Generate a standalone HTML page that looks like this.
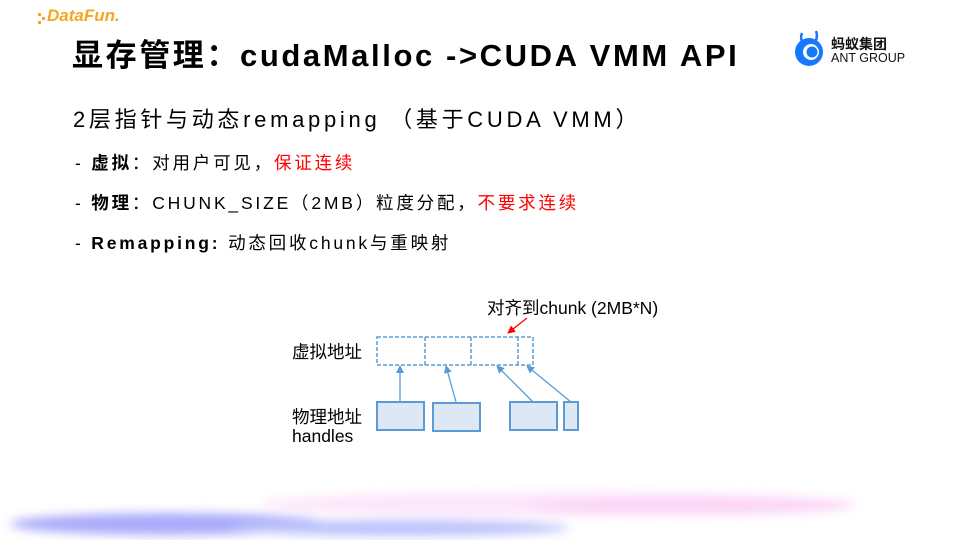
<!DOCTYPE html>
<html><head><meta charset="utf-8"><style>
body{margin:0;width:960px;height:540px;background:#fff;position:relative;overflow:hidden;font-family:"Liberation Sans","Noto Sans CJK SC",sans-serif;color:#000}
.a{position:absolute;white-space:nowrap}
.t{left:72px;top:30px;font-size:31px;font-weight:bold;letter-spacing:2.6px}
.s{left:73px;top:102px;font-size:22px;letter-spacing:3.7px}
.b{left:75px;font-size:17.5px;letter-spacing:2.8px}
.r{color:#ff0000}
</style></head><body>
<svg class="a" style="left:0;top:0" width="960" height="540">
<defs><filter id="f" x="-20%" y="-200%" width="140%" height="500%"><feGaussianBlur stdDeviation="5"/></filter>
<marker id="ab" markerWidth="8" markerHeight="8" refX="7" refY="4" orient="auto" markerUnits="userSpaceOnUse"><path d="M0,0 L8,4 L0,8z" fill="#5b9bd5"/></marker>
<marker id="ar" markerWidth="8" markerHeight="8" refX="7" refY="4" orient="auto" markerUnits="userSpaceOnUse"><path d="M0,0 L8,4 L0,8z" fill="#ff0000"/></marker></defs>
<g filter="url(#f)">
<ellipse cx="560" cy="504" rx="300" ry="12" fill="#fde6fb"/>
<ellipse cx="690" cy="506" rx="160" ry="9" fill="#fbd6f8"/>
<ellipse cx="170" cy="524" rx="160" ry="11" fill="#aaaafb"/>
<ellipse cx="400" cy="528" rx="170" ry="8" fill="#bcc2fb"/>
</g>
<g fill="none" stroke="#5b9bd5" stroke-width="1.5">
<rect x="377" y="337" width="156" height="28" stroke-dasharray="4,2"/>
<line x1="425" y1="337" x2="425" y2="365" stroke-dasharray="4,2"/>
<line x1="471" y1="337" x2="471" y2="365" stroke-dasharray="4,2"/>
<line x1="518" y1="337" x2="518" y2="365" stroke-dasharray="4,2"/>
</g>
<g fill="#dde8f4" stroke="#5b9bd5" stroke-width="2">
<rect x="377" y="402" width="47" height="28"/><rect x="433" y="403" width="47" height="28"/>
<rect x="510" y="402" width="47" height="28"/><rect x="564" y="402" width="14" height="28"/>
</g>
<g stroke="#5b9bd5" stroke-width="1.3" marker-end="url(#ab)">
<line x1="400" y1="402" x2="400" y2="366"/><line x1="456" y1="402" x2="446" y2="366"/>
<line x1="533" y1="402" x2="497" y2="366"/><line x1="571" y1="402" x2="527" y2="366"/>
</g>
<line x1="527" y1="318" x2="508" y2="333" stroke="#ff0000" stroke-width="1.3" marker-end="url(#ar)"/>
<g transform="translate(794,28)">
<path d="M8,5 q-3,8 4,12 M22,3 q3,8 -4,14" stroke="#1677ff" stroke-width="2.5" fill="none"/>
<circle cx="15" cy="24" r="14" fill="#1677ff"/><circle cx="17" cy="24" r="8" fill="#fff"/><circle cx="18" cy="24" r="5.5" fill="#1677ff"/>
</g>
<g transform="translate(38,10)" fill="#f5a623"><rect x="0" y="3" width="3" height="3"/><rect x="4" y="7" width="3" height="3"/><rect x="0" y="11" width="3" height="3"/></g>
</svg>
<div class="a" style="left:47px;top:6px;font-size:17px;font-weight:bold;font-style:italic;color:#f5a623">DataFun.</div>
<div class="a" style="left:831px;top:34px;font-size:14px;font-weight:bold;color:#111">蚂蚁集团</div>
<div class="a" style="left:831px;top:51px;font-size:12.5px;color:#111">ANT GROUP</div>
<div class="a t">显存管理：cudaMalloc -&gt;CUDA VMM API</div>
<div class="a s">2层指针与动态remapping （基于CUDA VMM）</div>
<div class="a b" style="top:150px">- <b>虚拟</b>：对用户可见，<span class="r">保证连续</span></div>
<div class="a b" style="top:190px">- <b>物理</b>：CHUNK_SIZE（2MB）粒度分配，<span class="r">不要求连续</span></div>
<div class="a b" style="top:230px">- <b>Remapping:</b> 动态回收chunk与重映射</div>
<div class="a" style="left:487px;top:295px;font-size:17.5px">对齐到chunk (2MB*N)</div>
<div class="a" style="left:292px;top:339px;font-size:17.5px">虚拟地址</div>
<div class="a" style="left:292px;top:404px;font-size:17.5px">物理地址</div>
<div class="a" style="left:292px;top:426px;font-size:17.5px">handles</div>
</body></html>
